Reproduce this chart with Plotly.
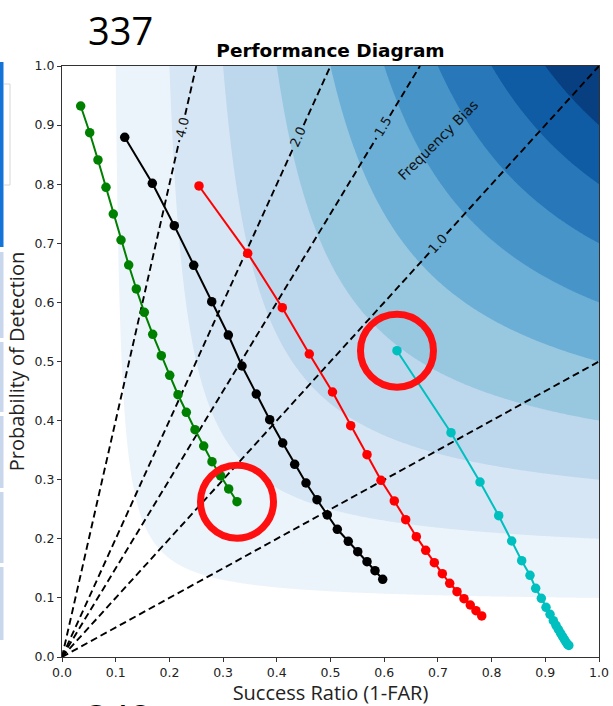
import numpy as np
import plotly.graph_objects as go

# ---------------- data ----------------
green_sr = [0.0348, 0.0516, 0.0670, 0.0819, 0.0955, 0.1099, 0.1242, 0.1384, 0.1533, 0.1689,
            0.1849, 0.2006, 0.2160, 0.2315, 0.2477, 0.2639, 0.2793, 0.2955, 0.3104, 0.3259]
green_pod = [0.9323, 0.8871, 0.8410, 0.7948, 0.7496, 0.7056, 0.6633, 0.6227, 0.5832, 0.5460,
             0.5098, 0.4766, 0.4438, 0.4140, 0.3846, 0.3570, 0.3305, 0.3063, 0.2843, 0.2628]

black_sr = [0.1168, 0.1682, 0.2091, 0.2453, 0.2788, 0.3097, 0.3352, 0.3618, 0.3868, 0.4110,
            0.4333, 0.4544, 0.4749, 0.4940, 0.5127, 0.5331, 0.5507, 0.5680, 0.5829, 0.5972]
black_pod = [0.8794, 0.8015, 0.7298, 0.6628, 0.6012, 0.5448, 0.4924, 0.4450, 0.4015, 0.3621,
             0.3261, 0.2944, 0.2662, 0.2403, 0.2161, 0.1958, 0.1782, 0.1613, 0.1460, 0.1315]

red_sr = [0.2551, 0.3458, 0.4102, 0.4605, 0.5037, 0.5376, 0.5680, 0.5940, 0.6188, 0.6400,
          0.6598, 0.6773, 0.6933, 0.7082, 0.7220, 0.7356, 0.7486, 0.7603, 0.7709, 0.7816]
red_pod = [0.7970, 0.6831, 0.5910, 0.5127, 0.4484, 0.3914, 0.3423, 0.2990, 0.2640, 0.2323,
           0.2036, 0.1805, 0.1596, 0.1410, 0.1247, 0.1105, 0.0986, 0.0880, 0.0783, 0.0694]

cyan_sr = [0.6238, 0.7244, 0.7784, 0.8132, 0.8374, 0.8560, 0.8715, 0.8821, 0.8926, 0.9013,
           0.9088, 0.9149, 0.9199, 0.9242, 0.9283, 0.9320, 0.9354, 0.9385, 0.9413, 0.9438]
cyan_pod = [0.5183, 0.3795, 0.2961, 0.2391, 0.1963, 0.1629, 0.1382, 0.1162, 0.0993, 0.0841,
            0.0722, 0.0614, 0.0536, 0.0469, 0.0406, 0.0350, 0.0300, 0.0254, 0.0215, 0.0195]

series_colors = ["#008000", "#000000", "#ff0000", "#00bfbf"]

bias_values = [4.0, 2.0, 1.5, 1.0, 0.5]
bias_labels = ["4.0", "2.0", "1.5", "1.0", None]
bias_label_sr = [0.224, 0.440, 0.598, 0.700, None]

csi_levels = [0.1, 0.2, 0.3, 0.4, 0.5, 0.6, 0.7, 0.8, 0.9]
band_colors = ["#ffffff", "rgb(236,244,251)", "rgb(214,230,244)", "rgb(189,215,236)",
               "rgb(152,199,224)", "rgb(107,174,214)", "rgb(71,149,200)",
               "rgb(40,120,185)", "rgb(16,92,164)", "rgb(8,63,129)"]

x_ticks = [0.0, 0.1, 0.2, 0.3, 0.4, 0.5, 0.6, 0.7, 0.8, 0.9, 1.0]
y_ticks = [0.0, 0.1, 0.2, 0.3, 0.4, 0.5, 0.6, 0.7, 0.8, 0.9, 1.0]

# ---------------- layout geometry ----------------
W, H = 613, 706
ML, MR, MT, MB = 62, 14, 66, 49
PW = W - ML - MR
PH = H - MT - MB


def px_x(p):
    return (p - ML) / PW


def px_y(p):
    return (H - MB - p) / PH


fig = go.Figure()

# CSI background
g = np.linspace(0.001, 1.0, 400)
SR, POD = np.meshgrid(g, g)
CSI = 1.0 / (1.0 / SR + 1.0 / POD - 1.0)
n = len(band_colors)
cscale = [[i / (n - 1), c] for i, c in enumerate(band_colors)]
fig.add_trace(go.Contour(
    x=g, y=g, z=CSI,
    contours=dict(start=csi_levels[0], end=csi_levels[-1], size=0.1,
                  coloring="fill", showlines=False),
    colorscale=cscale, showscale=False, line=dict(width=0),
    hoverinfo="skip"))

# frequency bias lines
gap_px = 13.0
for b, lab, lsr in zip(bias_values, bias_labels, bias_label_sr):
    if b >= 1:
        ex, ey = 1.0 / b, 1.0
    else:
        ex, ey = 1.0, b
    if lab is None:
        xs, ys = [0, ex], [0, ey]
    else:
        lx, ly = lsr, lsr * b
        dxp, dyp = ex * PW, ey * PH
        L = np.hypot(dxp, dyp)
        ux, uy = dxp / L / PW, dyp / L / PH
        xs = [0, lx - gap_px * ux, None, lx + gap_px * ux, ex]
        ys = [0, ly - gap_px * uy, None, ly + gap_px * uy, ey]
        ang = np.degrees(np.arctan2(b * PH, PW))
        fig.add_annotation(x=lx, y=ly, text=lab, showarrow=False, textangle=-ang,
                           xanchor="center", yanchor="middle",
                           font=dict(family="DejaVu Sans", size=13, color="#111"))
    fig.add_trace(go.Scatter(x=xs, y=ys, mode="lines",
                             line=dict(color="black", width=1.9, dash="7px,4px"),
                             hoverinfo="skip", showlegend=False))

fig.add_annotation(x=0.700, y=0.875, text="Frequency Bias", showarrow=False,
                   textangle=-45, xanchor="center", yanchor="middle",
                   font=dict(family="DejaVu Sans", size=14, color="#111"))

# series
for sx, sy, col in zip([green_sr, black_sr, red_sr, cyan_sr],
                       [green_pod, black_pod, red_pod, cyan_pod], series_colors):
    fig.add_trace(go.Scatter(x=sx, y=sy, mode="lines+markers",
                             line=dict(color=col, width=2),
                             marker=dict(color=col, size=9.5),
                             showlegend=False))

# red highlight circles around the last green point and the first cyan point
r_px = 36.5
for cx, cy in [(green_sr[-1], green_pod[-1]), (cyan_sr[0], cyan_pod[0])]:
    fig.add_shape(type="circle", xref="x", yref="y",
                  x0=cx - r_px / PW, x1=cx + r_px / PW,
                  y0=cy - r_px / PH, y1=cy + r_px / PH,
                  line=dict(color="#ff1010", width=7))

# surrounding screenshot decorations
fig.add_shape(type="rect", xref="paper", yref="paper",
              x0=px_x(0), x1=px_x(3.5), y0=px_y(247), y1=px_y(62),
              fillcolor="#1473d6", line=dict(width=0))
fig.add_shape(type="path", xref="paper", yref="paper",
              path=f"M {px_x(4)},{px_y(84)} L {px_x(10)},{px_y(84)} L {px_x(10)},{px_y(185)} L {px_x(4)},{px_y(185)}",
              line=dict(color="#d6d6d6", width=1))
for top, bot in [(252, 338), (342, 412), (416, 488), (492, 563), (567, 640)]:
    fig.add_shape(type="rect", xref="paper", yref="paper",
                  x0=px_x(0), x1=px_x(3.5), y0=px_y(bot), y1=px_y(top),
                  fillcolor="#c9d7ec", line=dict(width=0))

fig.add_annotation(xref="paper", yref="paper", x=px_x(120), y=px_y(30), text="337",
                   xanchor="center", yanchor="middle",
                   showarrow=False, font=dict(family="Open Sans", size=38, color="black"))
fig.add_annotation(xref="paper", yref="paper", x=px_x(118), y=px_y(690), yanchor="top",
                   xanchor="center", text="348", showarrow=False,
                   font=dict(family="Open Sans", size=38, color="black"))

axis_common = dict(range=[0, 1], showgrid=False, zeroline=False, showline=True,
                   linecolor="#333", linewidth=1, mirror=True, ticks="outside",
                   ticklen=4, tickcolor="#333", tickformat=".1f", automargin=False,
                   tickfont=dict(family="DejaVu Sans", size=12.5, color="#222"))

fig.update_layout(
    width=W, height=H,
    margin=dict(l=ML, r=MR, t=MT, b=MB, autoexpand=False),
    paper_bgcolor="white", plot_bgcolor="white",
    title=dict(text="<b>Performance Diagram</b>", x=0.5, xref="paper",
               y=1 - 51 / H, yref="container", yanchor="middle", xanchor="center",
               font=dict(family="DejaVu Sans", size=18.5, color="black")),
    xaxis=dict(axis_common, tickvals=x_ticks,
               title=dict(text="Success Ratio (1-FAR)", standoff=2,
                          font=dict(family="Open Sans", size=20, color="#222"))),
    yaxis=dict(axis_common, tickvals=y_ticks,
               title=dict(text="Probability of Detection", standoff=4,
                          font=dict(family="Open Sans", size=20, color="#222"))),
    showlegend=False,
)

fig.write_html("out.html")
